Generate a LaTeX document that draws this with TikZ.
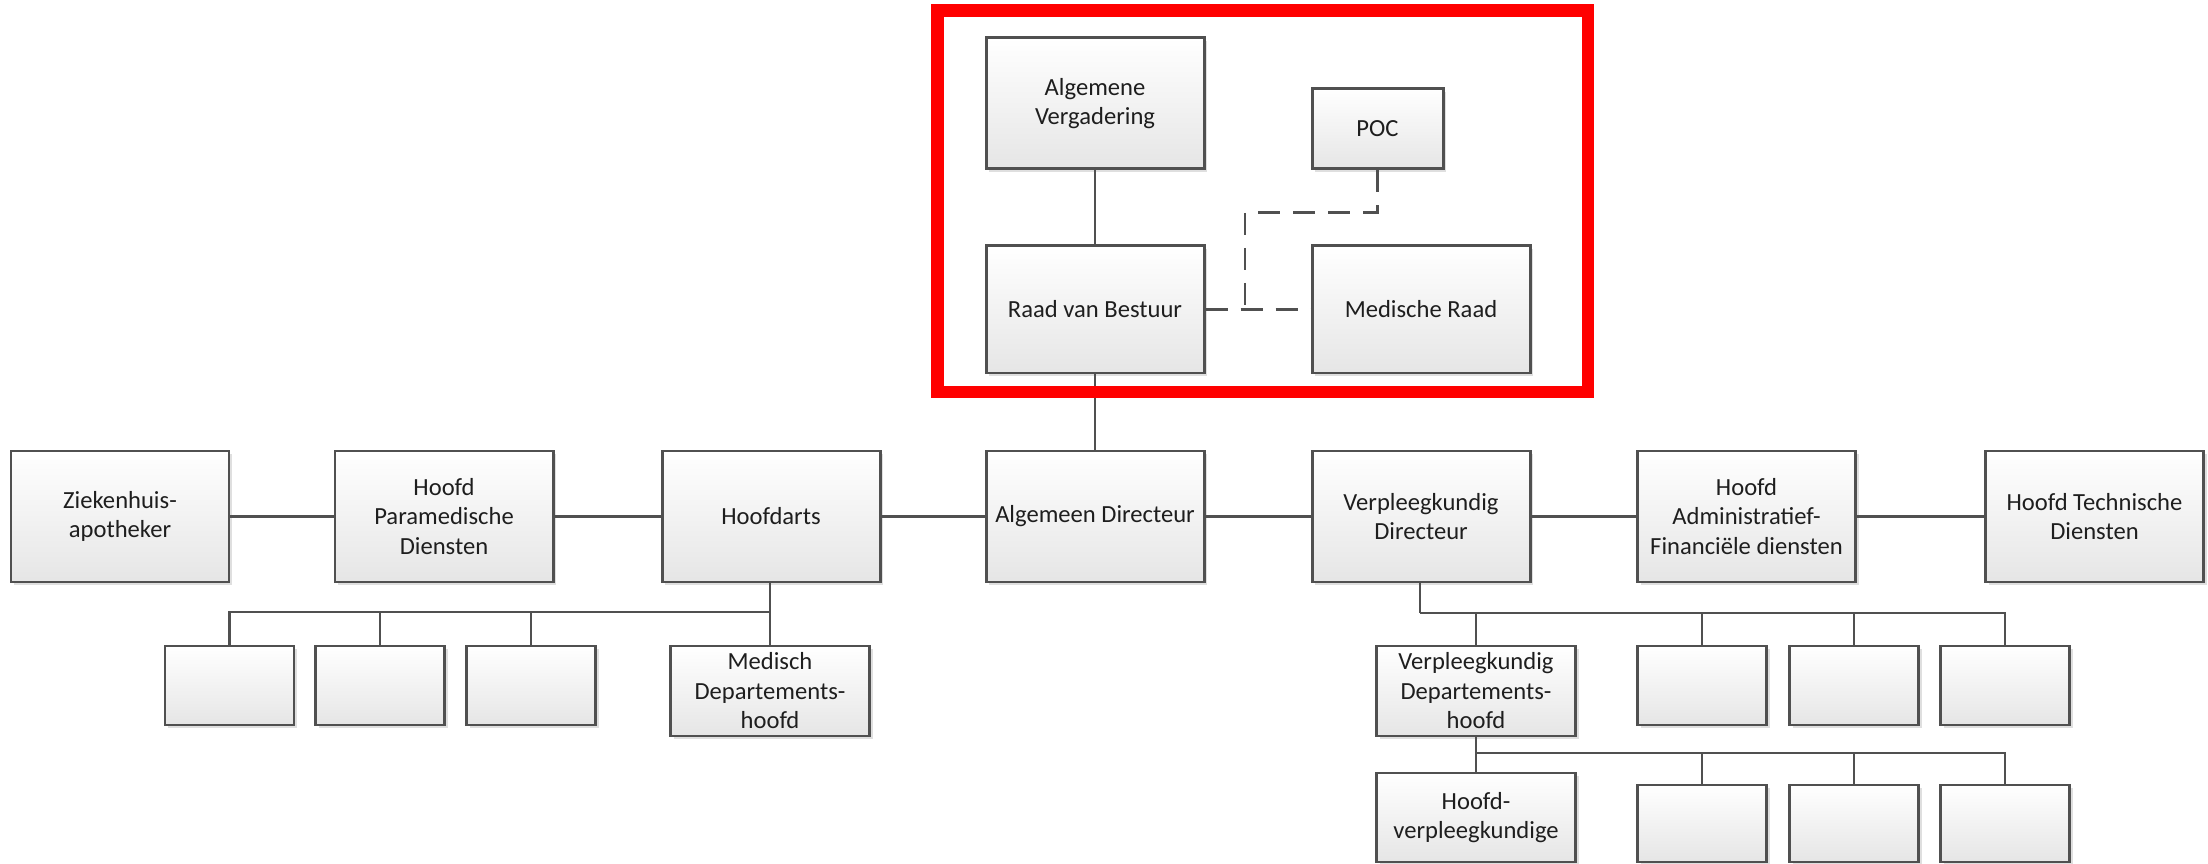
\documentclass[tikz,border=0pt]{standalone}
\usepackage{fontspec}
\setmainfont{Carlito}
\usetikzlibrary{shadows}
\definecolor{linegray}{HTML}{505050}
\definecolor{textgray}{HTML}{1E1E1E}
\tikzset{
  orgbox/.style={draw=linegray, line width=0.85pt, top color=white, bottom color=black!10,
    drop shadow={shadow xshift=0.03cm, shadow yshift=-0.03cm, opacity=0.25},
    align=center, inner sep=0pt, text=textgray, font=\fontsize{7}{8.4}\selectfont},
  wide/.style={orgbox, minimum width=2.18cm, minimum height=1.31cm},
  dept/.style={orgbox, minimum width=1.99cm, minimum height=0.90cm},
  blank/.style={orgbox, minimum width=1.29cm, minimum height=0.79cm},
  link/.style={draw=linegray, line width=0.7pt},
  dashlink/.style={link, dash pattern=on 0.22cm off 0.13cm}
}
\begin{document}
\begin{tikzpicture}
                \useasboundingbox (0,0) rectangle (22.08,-8.64);
                \node[wide] (AV) at (10.95,-1.035) {Algemene\\Vergadering};
                \node[blank, minimum width=1.31cm, minimum height=0.80cm] (POC) at (13.775,-1.29) {POC};
                \node[wide, minimum height=1.27cm] (RVB) at (10.95,-3.095) {Raad van Bestuur};
                \node[wide, minimum height=1.27cm] (MR) at (14.21,-3.095) {Medische Raad};
                \node[wide] (ZA) at (1.20,-5.165) {Ziekenhuis-\\apotheker};
                \node[wide] (HPD) at (4.44,-5.165) {Hoofd\\Paramedische\\Diensten};
                \node[wide] (HA) at (7.71,-5.165) {Hoofdarts};
                \node[wide] (AD) at (10.95,-5.165) {Algemeen Directeur};
                \node[wide] (VD) at (14.21,-5.165) {Verpleegkundig\\Directeur};
                \node[wide] (HAF) at (17.465,-5.165) {Hoofd\\Administratief-\\Financiële diensten};
                \node[wide] (HTD) at (20.945,-5.165) {Hoofd Technische\\Diensten};
                \node[blank] (E1) at (2.295,-6.855) {};
                \node[blank] (E2) at (3.80,-6.855) {};
                \node[blank] (E3) at (5.31,-6.855) {};
                \node[dept] (MDH) at (7.70,-6.91) {Medisch\\Departements-\\hoofd};
                \node[dept] (VDH) at (14.76,-6.91) {Verpleegkundig\\Departements-\\hoofd};
                \node[blank] (E4) at (17.02,-6.855) {};
                \node[blank] (E5) at (18.54,-6.855) {};
                \node[blank] (E6) at (20.05,-6.855) {};
                \node[dept, minimum height=0.89cm] (HVK) at (14.76,-8.175) {Hoofd-\\verpleegkundige};
                \node[blank, minimum height=0.77cm] (E7) at (17.02,-8.235) {};
                \node[blank, minimum height=0.77cm] (E8) at (18.54,-8.235) {};
                \node[blank, minimum height=0.77cm] (E9) at (20.05,-8.235) {};
                \coordinate (HAbus) at (7.70,-6.12);
                \coordinate (VDbus) at (14.20,-6.13);
                \coordinate (VDHbus) at (14.76,-7.53);
                \coordinate (DJ) at (12.45,-3.095);
                \draw[link] (AV) -- (RVB);
                \draw[link] (RVB) -- (AD);
                \draw[link] (ZA) -- (HPD);
                \draw[link] (HPD) -- (HA);
                \draw[link] (HA) -- (AD);
                \draw[link] (AD) -- (VD);
                \draw[link] (VD) -- (HAF);
                \draw[link] (HAF) -- (HTD);
                \draw[link] (HA.south -| MDH) -- (MDH);
                \foreach \b in {E1,E2,E3}
                    \draw[link] (HAbus) -| (\b.north);
                \draw[link] (VD.south -| VDbus) -- (VDbus);
                \foreach \b in {VDH,E4,E5,E6}
                    \draw[link] (VDbus) -| (\b.north);
                \draw[link] (VDH) -- (HVK);
                \foreach \b in {E7,E8,E9}
                    \draw[link] (VDHbus) -| (\b.north);
                \draw[dashlink] (RVB) -- (MR);
                \draw[dashlink] (POC.south) -- ++(0,-0.42) -| (DJ);
                \draw[red, line width=0.125cm] (9.375,-0.105) rectangle (15.88,-3.92);
            \end{tikzpicture}
\end{document}
